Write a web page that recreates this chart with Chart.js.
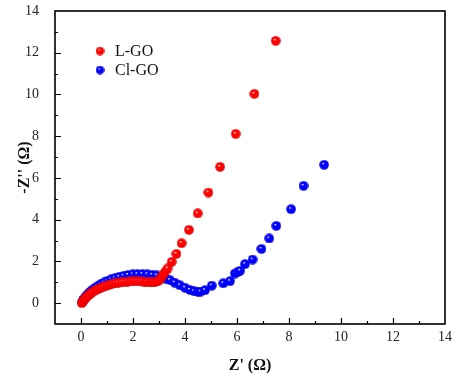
<!DOCTYPE html>
<html>
<head>
<meta charset="utf-8">
<script src="https://cdn.jsdelivr.net/npm/chart.js@4/dist/chart.umd.min.js"></script>
<style>
  html, body { margin: 0; padding: 0; background: #fff; }
  #wrap { width: 466px; height: 385px; }
</style>
</head>
<body>
<div id="wrap"><canvas id="nyquist"></canvas></div>
<script>
// data
const seriesNames = ["L-GO", "Cl-GO"];
const xTicks = [0, 2, 4, 6, 8, 10, 12, 14];
const yTicks = [0, 2, 4, 6, 8, 10, 12, 14];

const lgoX = [0.03, 0.06, 0.1, 0.15, 0.2, 0.26, 0.33, 0.4, 0.48, 0.57, 0.66, 0.76, 0.86, 0.97, 1.08, 1.2, 1.32, 1.44, 1.56, 1.68, 1.8, 1.92, 2.04, 2.16, 2.28, 2.4, 2.5, 2.6, 2.69, 2.77, 2.86, 2.95, 3.03, 3.1, 3.17, 3.25, 3.33, 3.49, 3.67, 3.87, 4.15, 4.49, 4.9, 5.35, 5.95, 6.67, 7.49];
const lgoY = [0.0, 0.07, 0.14, 0.21, 0.28, 0.35, 0.42, 0.49, 0.56, 0.62, 0.68, 0.74, 0.79, 0.84, 0.88, 0.92, 0.95, 0.98, 1.0, 1.02, 1.03, 1.04, 1.05, 1.05, 1.04, 1.03, 1.02, 1.01, 1.0, 1.0, 1.01, 1.05, 1.13, 1.25, 1.39, 1.52, 1.66, 1.98, 2.36, 2.87, 3.51, 4.3, 5.3, 6.53, 8.11, 10.03, 12.57];

const clgoX = [0.04, 0.08, 0.13, 0.19, 0.26, 0.34, 0.43, 0.53, 0.64, 0.76, 0.89, 1.02, 1.16, 1.31, 1.47, 1.64, 1.81, 1.99, 2.17, 2.36, 2.55, 2.74, 2.91, 3.1, 3.25, 3.42, 3.6, 3.8, 4.0, 4.19, 4.35, 4.5, 4.6, 4.77, 5.03, 5.47, 5.73, 5.92, 6.03, 6.12, 6.31, 6.6, 6.94, 7.24, 7.51, 8.08, 8.56, 9.35];
const clgoY = [0.05, 0.14, 0.23, 0.33, 0.43, 0.53, 0.63, 0.73, 0.82, 0.91, 0.99, 1.07, 1.14, 1.2, 1.26, 1.31, 1.35, 1.38, 1.39, 1.39, 1.38, 1.36, 1.33, 1.26, 1.18, 1.1, 0.98, 0.86, 0.74, 0.63, 0.57, 0.54, 0.55, 0.62, 0.84, 0.95, 1.05, 1.42, 1.5, 1.55, 1.87, 2.09, 2.6, 3.1, 3.7, 4.5, 5.62, 6.63];

function toPoints(xs, ys) {
  return xs.map((x, i) => ({ x: x, y: ys[i] }));
}

// shaded ball marker
function makeBall(base, dark, size) {
  const c = document.createElement("canvas");
  c.width = size;
  c.height = size;
  const g = c.getContext("2d");
  const r = size / 2;
  const grad = g.createRadialGradient(r * 0.8, r * 0.7, 0.3, r, r, r);
  grad.addColorStop(0, "#ffffff");
  grad.addColorStop(0.22, base);
  grad.addColorStop(0.85, base);
  grad.addColorStop(1, dark);
  g.fillStyle = grad;
  g.beginPath();
  g.arc(r, r, r - 0.2, 0, Math.PI * 2);
  g.fill();
  return c;
}

const redBall = makeBall("#ff0000", "#b00000", 10);
const blueBall = makeBall("#0000ff", "#0000a0", 10);
const redSmall = makeBall("#ff0000", "#b00000", 9);
const blueSmall = makeBall("#0000ff", "#0000a0", 9);

const serif = "'Liberation Serif', 'Times New Roman', serif";

// frame, inward ticks and legend
const framePlugin = {
  id: "frame",
  afterDraw(chart) {
    const ctx = chart.ctx;
    const a = chart.chartArea;
    const xs = chart.scales.x;
    const ys = chart.scales.y;
    ctx.save();
    ctx.strokeStyle = "#000";
    ctx.lineWidth = 1.6;
    ctx.strokeRect(a.left, a.top, a.right - a.left, a.bottom - a.top);
    ctx.lineWidth = 1.2;
    ctx.beginPath();
    for (let v = 0; v <= 13; v++) {
      const len = v % 2 === 0 ? 6 : 3;
      const px = Math.round(xs.getPixelForValue(v)) + 0.5;
      ctx.moveTo(px, a.bottom);
      ctx.lineTo(px, a.bottom - len);
      const py = Math.round(ys.getPixelForValue(v)) + 0.5;
      ctx.moveTo(a.left, py);
      ctx.lineTo(a.left + len, py);
    }
    ctx.stroke();

    // legend
    ctx.font = "16px " + serif;
    ctx.fillStyle = "#111";
    ctx.textBaseline = "middle";
    const balls = [redSmall, blueSmall];
    chart.data.datasets.forEach((ds, i) => {
      const y = 51 + i * 19;
      ctx.drawImage(balls[i], 95.5, y - 4.5);
      ctx.fillText(ds.label, 115, y + 1);
    });
    ctx.restore();
  },
};

const ctx = document.getElementById("nyquist");

new Chart(ctx, {
  type: "scatter",
  data: {
    datasets: [
      {
        label: seriesNames[0],
        data: toPoints(lgoX, lgoY),
        pointStyle: redBall,
        backgroundColor: "#ff0000",
      },
      {
        label: seriesNames[1],
        data: toPoints(clgoX, clgoY),
        pointStyle: blueBall,
        backgroundColor: "#0000ff",
      },
    ],
  },
  options: {
    responsive: true,
    maintainAspectRatio: false,
    animation: false,
    layout: { padding: { top: 11, right: 21, left: 0, bottom: 0 } },
    plugins: {
      legend: { display: false },
      tooltip: { enabled: false },
    },
    scales: {
      x: {
        type: "linear",
        min: -1,
        max: 14,
        afterFit: (s) => { s.height = 61; s.paddingLeft = 0; s.paddingRight = 0; },
        afterBuildTicks: (s) => { s.ticks = xTicks.map((v) => ({ value: v })); },
        grid: { display: false },
        border: { display: false },
        ticks: { color: "#222", font: { family: serif, size: 14 }, padding: -3 },
        title: {
          display: true,
          text: "Z' (Ω)",
          color: "#111",
          font: { family: serif, size: 16, weight: "bold" },
          padding: { top: 4, bottom: 10 },
        },
      },
      y: {
        type: "linear",
        min: -1,
        max: 14,
        afterFit: (s) => { s.width = 55; s.paddingTop = 0; s.paddingBottom = 0; },
        afterBuildTicks: (s) => { s.ticks = yTicks.map((v) => ({ value: v })); },
        grid: { display: false },
        border: { display: false },
        ticks: { color: "#222", font: { family: serif, size: 14 }, padding: 8 },
        title: {
          display: true,
          text: "-Z'' (Ω)",
          color: "#111",
          font: { family: serif, size: 16, weight: "bold" },
          padding: { top: 15, bottom: 2 },
        },
      },
    },
  },
  plugins: [framePlugin],
});
</script>
</body>
</html>
